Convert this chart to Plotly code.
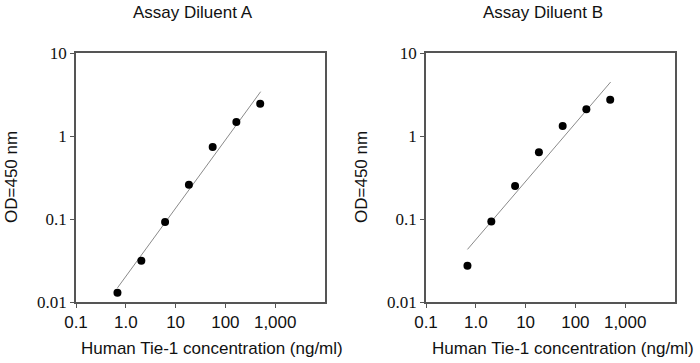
import plotly.graph_objects as go

conc = [0.68, 2.05, 6.15, 18.5, 55.5, 166, 500]
od_a = [0.0129, 0.0315, 0.092, 0.259, 0.736, 1.47, 2.45]
od_b = [0.0274, 0.093, 0.25, 0.636, 1.32, 2.10, 2.74]
fit_x = [0.68, 510]
fit_a = [0.0148, 3.42]
fit_b = [0.043, 4.47]
titles = ["Assay Diluent A", "Assay Diluent B"]
x_tickvals = [0.1, 1, 10, 100, 1000]
x_ticktext = ["0.1", "1.0", "10", "100", "1,000"]
y_tickvals = [0.01, 0.1, 1, 10]
y_ticktext = ["0.01", "0.1", "1", "10"]

W, H = 700, 363
fig = go.Figure()

panels = [
    dict(od=od_a, fit=fit_a, x0=76, x1=325),
    dict(od=od_b, fit=fit_b, x0=426, x1=675),
]
top, bottom = 53, 302
SANS = "Arial, Liberation Sans"
SERIF = "Times New Roman, Liberation Serif"


def px(x):
    return x / W


def py(y):
    return 1 - y / H


for i, p in enumerate(panels):
    xa = "x" if i == 0 else "x2"
    ya = "y" if i == 0 else "y2"
    fig.add_trace(go.Scatter(x=fit_x, y=p["fit"], mode="lines",
                             line=dict(color="#8a8a8a", width=1),
                             xaxis=xa, yaxis=ya, showlegend=False))
    fig.add_trace(go.Scatter(x=conc, y=p["od"], mode="markers",
                             marker=dict(color="black", size=8),
                             xaxis=xa, yaxis=ya, showlegend=False))
    ax = dict(type="log", range=[-1, 4], domain=[px(p["x0"]), px(p["x1"])],
              tickvals=x_tickvals, ticktext=x_ticktext, ticks="outside",
              ticklen=4, tickcolor="#555", showline=True, linecolor="#555",
              linewidth=1.5, mirror=True, showgrid=False, zeroline=False,
              automargin=False, anchor=ya,
              tickfont=dict(family=SANS, size=17, color="#111"))
    ay = dict(type="log", range=[-2, 1], domain=[py(bottom), py(top)],
              tickvals=y_tickvals, ticktext=y_ticktext, ticks="outside",
              ticklen=4, tickcolor="#555", showline=True, linecolor="#555",
              linewidth=1.5, mirror=True, showgrid=False, zeroline=False,
              automargin=False, anchor=xa,
              tickfont=dict(family=SERIF, size=17, color="#111"))
    if i == 0:
        fig.update_layout(xaxis=ax, yaxis=ay)
    else:
        fig.update_layout(xaxis2=ax, yaxis2=ay)
    cx = (p["x0"] + p["x1"]) / 2
    fig.add_annotation(text=titles[i], x=px(cx - 8), y=py(12),
                       xref="paper", yref="paper", showarrow=False,
                       font=dict(family=SANS, size=17, color="#111"),
                       xanchor="center", yanchor="middle")
    fig.add_annotation(text="Human Tie-1 concentration (ng/ml)", x=px(cx + 12), y=py(348),
                       xref="paper", yref="paper", showarrow=False,
                       font=dict(family=SANS, size=17, color="#111"),
                       xanchor="center", yanchor="middle")
    fig.add_annotation(text="OD=450 nm", x=px(p["x0"] - 64), y=py(177),
                       xref="paper", yref="paper", showarrow=False, textangle=-90,
                       font=dict(family=SANS, size=17, color="#111"),
                       xanchor="center", yanchor="middle")

fig.update_layout(width=W, height=H, margin=dict(l=0, r=0, t=0, b=0),
                  paper_bgcolor="white", plot_bgcolor="white")
fig.write_html("out.html", config={"displayModeBar": False},
               post_script="document.body.style.margin='0';document.body.style.overflow='hidden';")
